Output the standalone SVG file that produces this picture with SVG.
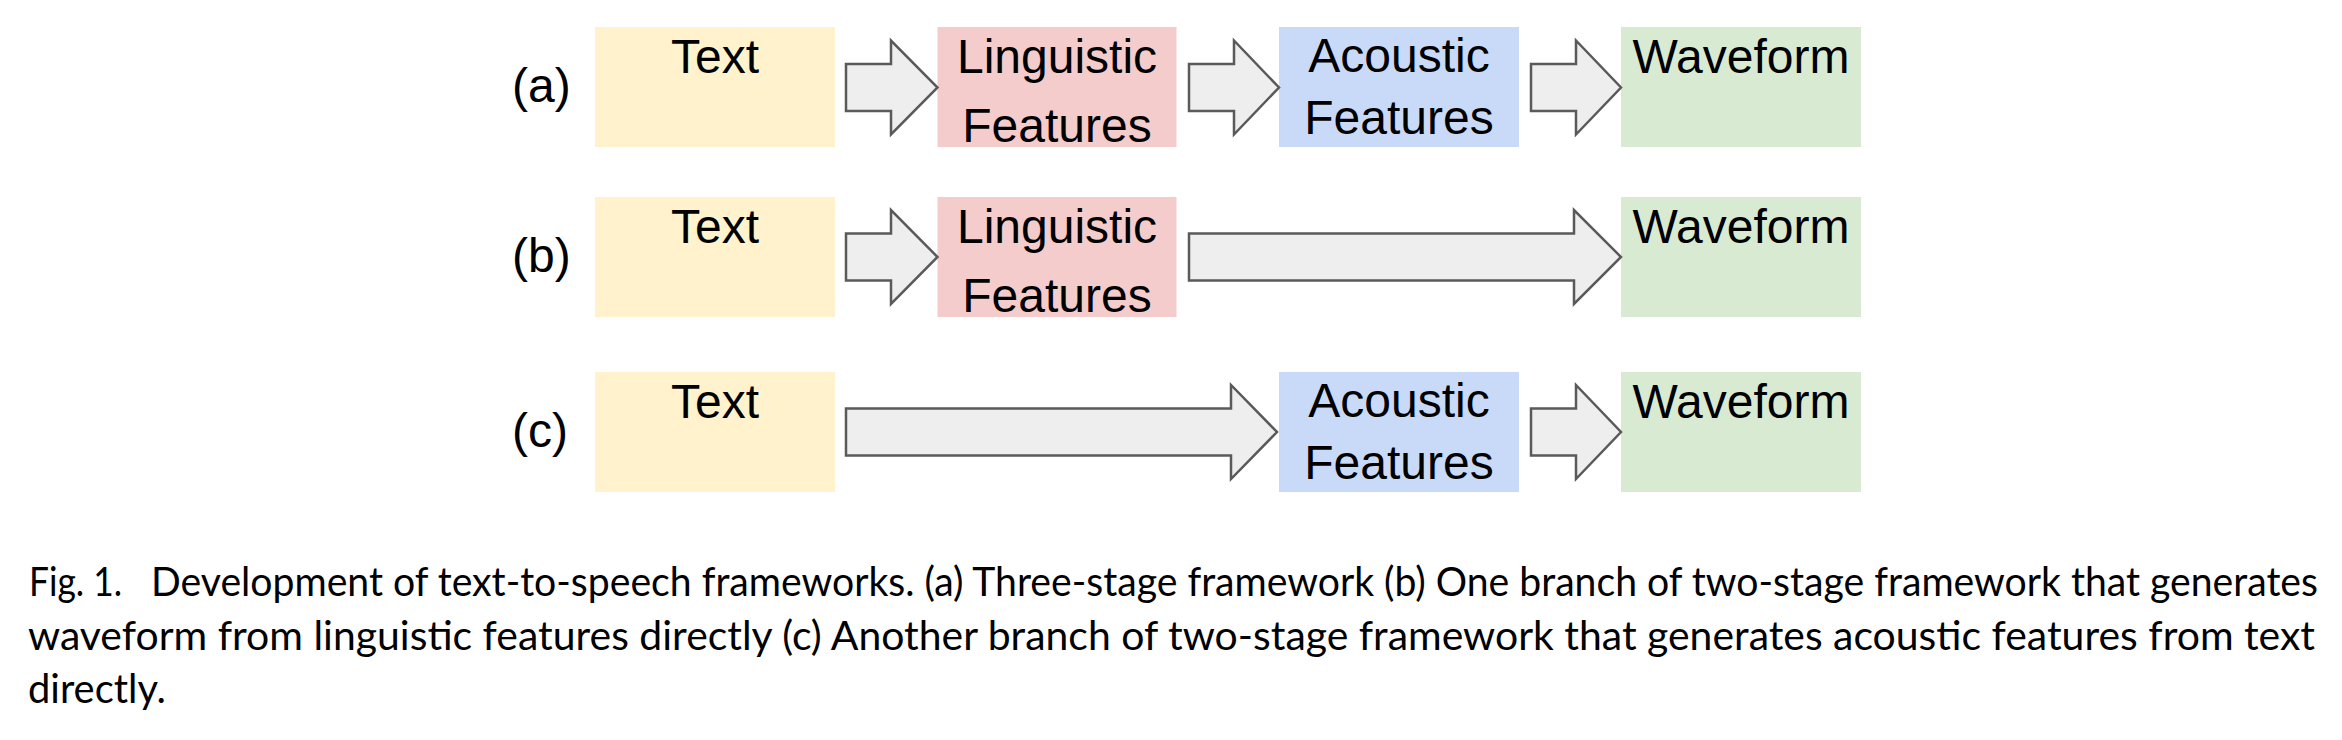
<svg xmlns="http://www.w3.org/2000/svg" width="2342" height="740" viewBox="0 0 2342 740">
<style>
.lbl{font-family:"Liberation Sans",Arial,sans-serif;font-size:48px;fill:#000}
.c{text-anchor:middle}
.t{fill:#fff2cc}.l{fill:#f4cccc}.a{fill:#c9daf8}.w{fill:#d9ead3}
.arr{fill:#eeeeee;stroke:#5a5a5a;stroke-width:2.5;stroke-linejoin:miter}
.cap{font-family:Lato,"Open Sans",sans-serif;font-size:41px;fill:#000}
</style>
<rect width="2342" height="740" fill="#fff"/>
<g id="row-labels">
<text class="lbl" x="512" y="102">(a)</text>
<text class="lbl" x="512" y="272">(b)</text>
<text class="lbl" x="512" y="447">(c)</text>
</g>
<g id="a-text"><rect class="t" x="595" y="27" width="240" height="120"/><text class="lbl c" x="715" y="73">Text</text></g>
<g id="a-ling"><rect class="l" x="937.5" y="27" width="239" height="120"/><text class="lbl c" x="1057" y="73">Linguistic</text><text class="lbl c" x="1057" y="142">Features</text></g>
<g id="a-acou"><rect class="a" x="1279" y="27" width="240" height="120"/><text class="lbl c" x="1399" y="72">Acoustic</text><text class="lbl c" x="1399" y="133.5">Features</text></g>
<g id="a-wave"><rect class="w" x="1621" y="27" width="240" height="120"/><text class="lbl c" x="1741" y="73">Waveform</text></g>
<g id="b-text"><rect class="t" x="595" y="197" width="240" height="120"/><text class="lbl c" x="715" y="243">Text</text></g>
<g id="b-ling"><rect class="l" x="937.5" y="197" width="239" height="120"/><text class="lbl c" x="1057" y="243">Linguistic</text><text class="lbl c" x="1057" y="312">Features</text></g>
<g id="b-wave"><rect class="w" x="1621" y="197" width="240" height="120"/><text class="lbl c" x="1741" y="243">Waveform</text></g>
<g id="c-text"><rect class="t" x="595" y="372" width="240" height="120"/><text class="lbl c" x="715" y="418">Text</text></g>
<g id="c-acou"><rect class="a" x="1279" y="372" width="240" height="120"/><text class="lbl c" x="1399" y="417">Acoustic</text><text class="lbl c" x="1399" y="478.5">Features</text></g>
<g id="c-wave"><rect class="w" x="1621" y="372" width="240" height="120"/><text class="lbl c" x="1741" y="418">Waveform</text></g>
<g id="connectors">
<path class="arr" d="M846,64 H891 V40.5 L937.5,87.5 L891,134.5 V111 H846 Z"/>
<path class="arr" d="M1189,64 H1234 V40.5 L1279,87.5 L1234,134.5 V111 H1189 Z"/>
<path class="arr" d="M1531,64 H1576 V40.5 L1621,87.5 L1576,134.5 V111 H1531 Z"/>
<path class="arr" d="M846,233.5 H891 V210 L937.5,257 L891,304 V280.5 H846 Z"/>
<path class="arr" d="M1189,233.5 H1574 V210 L1621,257 L1574,304 V280.5 H1189 Z"/>
<path class="arr" d="M846,408.5 H1231 V385 L1277,432 L1231,479 V455.5 H846 Z"/>
<path class="arr" d="M1531,408.5 H1576 V385 L1621,432 L1576,479 V455.5 H1531 Z"/>
</g>
<g id="caption">
<text class="cap" x="29" y="596" textLength="93" lengthAdjust="spacingAndGlyphs">Fig. 1.</text>
<text class="cap" x="151" y="596" textLength="2167" lengthAdjust="spacingAndGlyphs">Development of text-to-speech frameworks. (a) Three-stage framework (b) One branch of two-stage framework that generates</text>
<text class="cap" x="28" y="649.5" textLength="2287" lengthAdjust="spacingAndGlyphs">waveform from linguistic features directly (c) Another branch of two-stage framework that generates acoustic features from text</text>
<text class="cap" x="28" y="703" textLength="138" lengthAdjust="spacingAndGlyphs">directly.</text>
</g>
</svg>
